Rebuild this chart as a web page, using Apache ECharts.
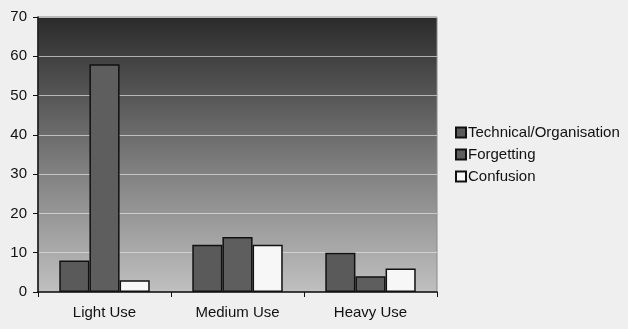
<!DOCTYPE html>
<html><head><meta charset="utf-8">
<script src="https://cdn.jsdelivr.net/npm/echarts@6/dist/echarts.min.js"></script>
<style>html,body{margin:0;padding:0;background:#efefef;}#c{width:628px;height:329px;}</style>
</head><body><div id="c"></div>
<script>
const categories = ['Light Use', 'Medium Use', 'Heavy Use'];
const technical = [8, 12, 10];
const forgetting = [58, 14, 4];
const confusion = [3, 12, 6];
const seriesNames = ['Technical/Organisation', 'Forgetting', 'Confusion'];

const chart = echarts.init(document.getElementById('c'));
const font = 'Liberation Sans, Arial, sans-serif';
const barStyle = (c) => ({ color: c, borderColor: '#111', borderWidth: 1.5 });
chart.setOption({
  backgroundColor: '#efefef',
  animation: false,
  grid: {
    left: 38, right: 191, top: 17, bottom: 37,
    show: true, borderColor: '#888', borderWidth: 1,
    backgroundColor: new echarts.graphic.LinearGradient(0, 0, 0, 1, [
      { offset: 0, color: '#2a2a2a' },
      { offset: 0.5, color: '#777777' },
      { offset: 1, color: '#c0c0c0' }
    ])
  },
  legend: {
    orient: 'vertical', left: 450, top: 120, itemWidth: 10, itemHeight: 10, itemGap: 7,
    textStyle: { fontFamily: font, fontSize: 15, color: '#111', padding: [0, 0, 0, -3] },
    data: seriesNames.map(n => ({ name: n, icon: 'rect' }))
  },
  xAxis: {
    type: 'category', data: categories,
    axisLine: { lineStyle: { color: '#111', width: 1.5 } },
    axisTick: { show: true, length: 5, lineStyle: { color: '#111' } },
    axisLabel: { fontFamily: font, fontSize: 15, color: '#111', margin: 13 }
  },
  yAxis: {
    type: 'value', min: 0, max: 70, interval: 10,
    axisLine: { show: true, lineStyle: { color: '#111', width: 1.5 } },
    axisTick: { show: true, length: 5, lineStyle: { color: '#111' } },
    axisLabel: { fontFamily: font, fontSize: 15, color: '#111', margin: 11 },
    splitLine: { lineStyle: { color: 'rgba(225,225,225,0.7)', width: 1.2 } }
  },
  series: [
    { name: seriesNames[0], type: 'bar', data: technical, barGap: '0%', barCategoryGap: '32%', itemStyle: barStyle('#5a5a5a') },
    { name: seriesNames[1], type: 'bar', data: forgetting, barGap: '0%', barCategoryGap: '32%', itemStyle: barStyle('#5e5e5e') },
    { name: seriesNames[2], type: 'bar', data: confusion, barGap: '0%', barCategoryGap: '32%', itemStyle: barStyle('#f7f7f7') }
  ]
});
</script></body></html>
